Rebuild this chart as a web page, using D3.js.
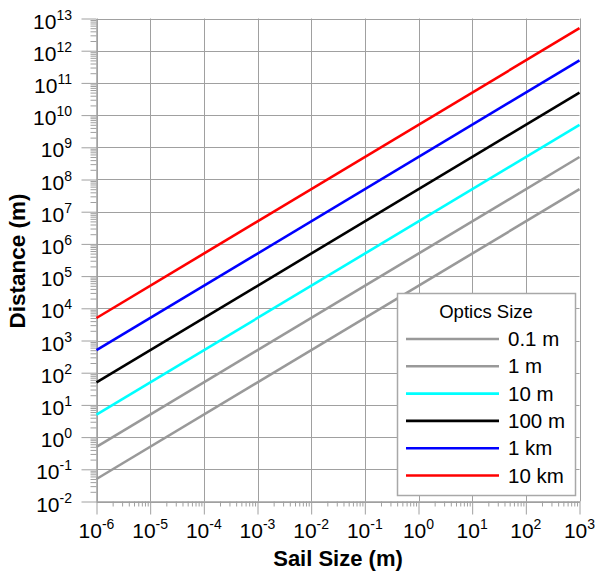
<!DOCTYPE html>
<html><head><meta charset="utf-8">
<script src="https://cdn.jsdelivr.net/npm/d3@7"></script>
<style>
body{margin:0;background:#fff;}
text{font-family:"Liberation Sans",Arial,sans-serif;}
</style></head>
<body><svg id="c" width="595" height="571"></svg>
<script>
const xDomain = [1e-6, 1e3];
const yDomain = [1e-2, 1e13];
const xExponents = [-6,-5,-4,-3,-2,-1,0,1,2,3];
const yExponents = [-2,-1,0,1,2,3,4,5,6,7,8,9,10,11,12,13];
const seriesNames = ["0.1 m","1 m","10 m","100 m","1 km","10 km"];
const seriesColors = ["#999999","#999999","#00ffff","#000000","#0000ff","#ff0000"];
const sailSizes = [1e-6, 1e3];
const dist01m = [0.05, 5e7];
const dist1m = [0.5, 5e8];
const dist10m = [5, 5e9];
const dist100m = [50, 5e10];
const dist1km = [500, 5e11];
const dist10km = [5000, 5e12];
const seriesValues = [dist01m, dist1m, dist10m, dist100m, dist1km, dist10km];

const svg = d3.select("#c");
const L = 96.5, R = 579.5, T = 18.5, B = 501.5;
const x = d3.scaleLog().domain(xDomain).range([L, R]);
const y = d3.scaleLog().domain(yDomain).range([B, T]);
const grid = "#a0a0a0";

function minors(dom){
  const out=[];
  const lo=Math.round(Math.log10(dom[0])), hi=Math.round(Math.log10(dom[1]));
  for(let e=lo;e<hi;e++) for(let k=2;k<=9;k++) out.push(k*Math.pow(10,e));
  return out;
}
const xMaj = xExponents.map(e=>Math.pow(10,e));
const yMaj = yExponents.map(e=>Math.pow(10,e));

// grid
svg.append("g").selectAll("line").data(xMaj).join("line")
  .attr("x1",d=>Math.round(x(d))+0.5).attr("x2",d=>Math.round(x(d))+0.5)
  .attr("y1",T).attr("y2",B).attr("stroke",grid).attr("stroke-width",1);
svg.append("g").selectAll("line").data(yMaj).join("line")
  .attr("y1",d=>Math.round(y(d))+0.5).attr("y2",d=>Math.round(y(d))+0.5)
  .attr("x1",L).attr("x2",R).attr("stroke",grid).attr("stroke-width",1);

// axes ticks
function styleAxis(g){
  g.select(".domain").attr("stroke",grid);
  g.selectAll(".tick line").attr("stroke",grid);
  g.selectAll(".tick text").remove();
}
svg.append("g").attr("transform",`translate(0,${B})`)
  .call(d3.axisBottom(x).tickValues(minors(xDomain)).tickSize(5).tickSizeOuter(0).tickFormat(""))
  .call(styleAxis);
svg.append("g").attr("transform",`translate(0,${B})`)
  .call(d3.axisBottom(x).tickValues(xMaj).tickSize(13).tickSizeOuter(0).tickFormat(""))
  .call(styleAxis);
svg.append("g").attr("transform",`translate(${L},0)`)
  .call(d3.axisLeft(y).tickValues(minors(yDomain)).tickSize(6).tickSizeOuter(0).tickFormat(""))
  .call(styleAxis);
svg.append("g").attr("transform",`translate(${L},0)`)
  .call(d3.axisLeft(y).tickValues(yMaj).tickSize(15).tickSizeOuter(0).tickFormat(""))
  .call(styleAxis);

// tick labels
const fs=21, sfs=14;
xExponents.forEach(e=>{
  const t=svg.append("text").attr("x",x(Math.pow(10,e))).attr("y",538)
    .attr("text-anchor","middle").attr("font-size",fs).attr("fill","#000");
  t.append("tspan").text("10");
  t.append("tspan").attr("font-size",sfs).attr("dy",-9).text(String(e));
});
yExponents.forEach(e=>{
  const t=svg.append("text").attr("x",72).attr("y",y(Math.pow(10,e))+10)
    .attr("text-anchor","end").attr("font-size",fs).attr("fill","#000");
  t.append("tspan").text("10");
  t.append("tspan").attr("font-size",sfs).attr("dy",-9).text(String(e));
});

// lines
const line = d3.line().x(d=>x(d[0])).y(d=>y(d[1]));
seriesValues.forEach((vals,i)=>{
  svg.append("path").datum(sailSizes.map((s,j)=>[s,vals[j]]))
    .attr("d",line).attr("fill","none").attr("stroke",seriesColors[i]).attr("stroke-width",2.6);
});

// axis titles
svg.append("text").attr("x",(L+R)/2).attr("y",566).attr("text-anchor","middle")
  .attr("font-size",22).attr("font-weight","bold").text("Sail Size (m)");
svg.append("text").attr("transform",`translate(25,${(T+B)/2+1}) rotate(-90)`).attr("text-anchor","middle")
  .attr("font-size",22.5).attr("font-weight","bold").text("Distance (m)");

// legend
const lg = svg.append("g");
lg.append("rect").attr("x",397.5).attr("y",293.5).attr("width",178).attr("height",202)
  .attr("fill","#fff").attr("stroke","#a8a8a8").attr("stroke-width",1.5);
lg.append("text").attr("x",486).attr("y",318).attr("text-anchor","middle").attr("font-size",18.5).text("Optics Size");
seriesNames.forEach((n,i)=>{
  const yy = 339 + i*27.3;
  lg.append("line").attr("x1",406).attr("x2",499).attr("y1",yy).attr("y2",yy)
    .attr("stroke",seriesColors[i]).attr("stroke-width",2.6);
  lg.append("text").attr("x",508).attr("y",yy+7).attr("font-size",20.5).text(n);
});
</script></body></html>
